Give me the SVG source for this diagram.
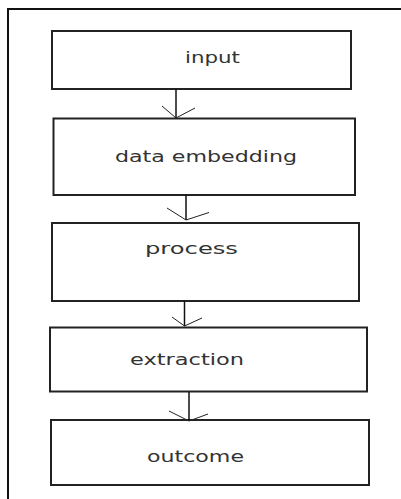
<svg xmlns="http://www.w3.org/2000/svg" width="401" height="499" viewBox="0 0 401 499">
  <style>
    .frame { fill: none; stroke: #111; stroke-width: 2; }
    .box { fill: #fff; stroke: #222; stroke-width: 2; }
    .label { font-family: "DejaVu Sans", "Liberation Sans", sans-serif; font-size: 15px; fill: #333; }
    .link { fill: none; stroke: #111; stroke-width: 1.5; }
    .head { fill: none; stroke: #222; stroke-width: 1; }
  </style>
  <rect width="401" height="499" fill="#fff"/>
  <!-- outer frame: top and left edges only -->
  <path class="frame" d="M8,499 V9 H401"/>

  <g id="input">
    <rect class="box" x="52" y="31" width="299" height="58"/>
    <text class="label" x="185" y="63" textLength="55" lengthAdjust="spacingAndGlyphs">input</text>
  </g>
  <g id="data-embedding">
    <rect class="box" x="53.5" y="118.5" width="301.5" height="76.5"/>
    <text class="label" x="115" y="161.5" font-size="16" textLength="182" lengthAdjust="spacingAndGlyphs">data embedding</text>
  </g>
  <g id="process">
    <rect class="box" x="52" y="223" width="307" height="78"/>
    <text class="label" x="145" y="254" textLength="93" lengthAdjust="spacingAndGlyphs">process</text>
  </g>
  <g id="extraction">
    <rect class="box" x="50" y="327.5" width="317" height="64"/>
    <text class="label" x="130" y="365" textLength="114" lengthAdjust="spacingAndGlyphs">extraction</text>
  </g>
  <g id="outcome">
    <rect class="box" x="51" y="420" width="318" height="65"/>
    <text class="label" x="147" y="462" textLength="97" lengthAdjust="spacingAndGlyphs">outcome</text>
  </g>

  <g id="connectors">
    <path class="link" d="M176,89 V118"/>
    <path class="head" d="M162,106 L176,118 L195,108"/>
    <path class="link" d="M186,195 V220"/>
    <path class="head" d="M167,208 L186,220 L209,212.5"/>
    <path class="link" d="M184.5,301 V326"/>
    <path class="head" d="M172,317 L184.5,326 L202,318"/>
    <path class="link" d="M189,392 V421"/>
    <path class="head" d="M169,411 L189,421 L208,414"/>
  </g>
</svg>
